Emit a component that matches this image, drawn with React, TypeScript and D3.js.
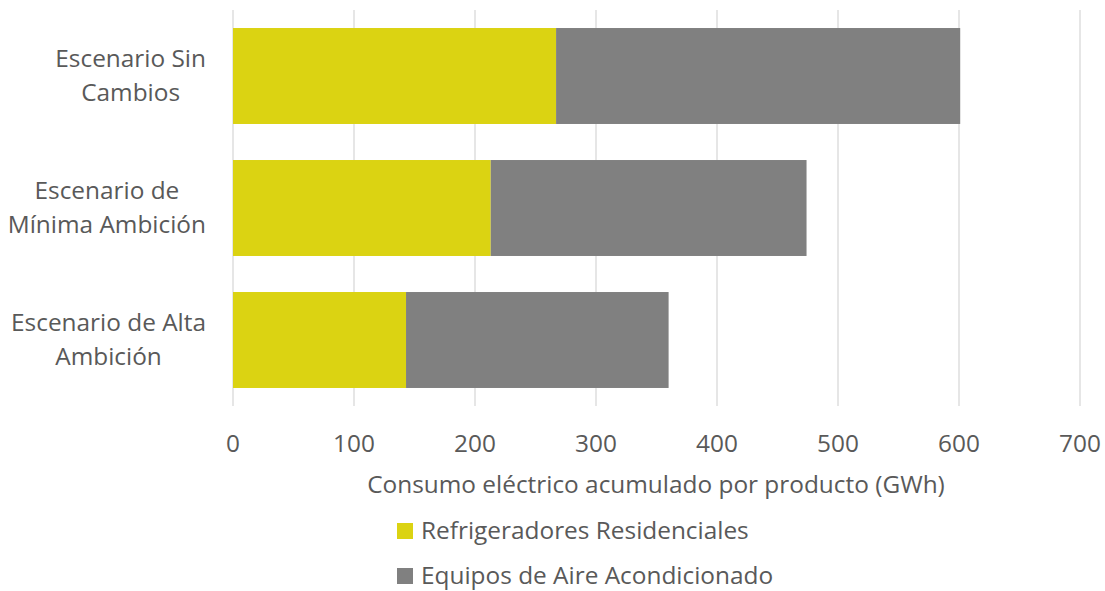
import React, { useEffect, useRef } from "react";
import * as d3 from "d3";

const categories = [
  ["Escenario Sin", "Cambios"],
  ["Escenario de", "Mínima Ambición"],
  ["Escenario de Alta", "Ambición"],
];
const seriesNames = ["Refrigeradores Residenciales", "Equipos de Aire Acondicionado"];
const refrigeradores = [267, 213, 143];
const aireAcondicionado = [334, 261, 217];
const xTicks = [0, 100, 200, 300, 400, 500, 600, 700];
const axisTitle = "Consumo eléctrico acumulado por producto (GWh)";
const colors = ["#DBD312", "#808080"];

const W = 1105, H = 591;
const FONT = "'Open Sans', sans-serif";
const FS = 24.4;
const TXT = "#595959";

export default function App() {
  const ref = useRef<SVGSVGElement>(null);
  useEffect(() => {
    const svg = d3.select(ref.current);
    svg.selectAll("*").remove();
    const x = d3.scaleLinear().domain([0, 700]).range([233, 1080]);
    const y = d3.scaleBand<number>().domain([0, 1, 2]).range([10, 406]).paddingInner(0.273).paddingOuter(0.1365);

    svg.append("g").selectAll("line").data(xTicks).join("line")
      .attr("x1", d => x(d)).attr("x2", d => x(d))
      .attr("y1", 10).attr("y2", 406)
      .attr("stroke", "#d9d9d9").attr("stroke-width", 1.3);

    const stacks = categories.map((_, i) => [refrigeradores[i], aireAcondicionado[i]]);
    stacks.forEach((vals, i) => {
      let acc = 0;
      vals.forEach((v, s) => {
        svg.append("rect")
          .attr("x", x(acc)).attr("width", x(acc + v) - x(acc))
          .attr("y", y(i)!).attr("height", y.bandwidth())
          .attr("fill", colors[s]);
        acc += v;
      });
    });

    svg.append("g").selectAll("text").data(xTicks).join("text")
      .attr("x", d => x(d)).attr("y", 452)
      .attr("text-anchor", "middle")
      .attr("font-family", FONT).attr("font-size", FS).attr("fill", TXT)
      .text(d => String(d));

    categories.forEach((lines, i) => {
      const cy = y(i)! + y.bandwidth() / 2;
      const g = svg.append("g");
      const texts = lines.map((l, k) =>
        g.append("text")
          .attr("y", cy + (k - (lines.length - 1) / 2) * 34 + 8)
          .attr("font-family", FONT).attr("font-size", FS).attr("fill", TXT)
          .attr("text-anchor", "middle")
          .text(l)
      );
      const maxW = d3.max(texts, t => (t.node() as SVGTextElement).getComputedTextLength()) || 0;
      texts.forEach(t => t.attr("x", 206 - maxW / 2));
    });

    svg.append("text")
      .attr("x", 656).attr("y", 493)
      .attr("text-anchor", "middle")
      .attr("font-family", FONT).attr("font-size", FS).attr("fill", TXT)
      .text(axisTitle);

    seriesNames.forEach((n, s) => {
      const base = 539 + s * 45;
      svg.append("rect").attr("x", 397).attr("y", base - 16).attr("width", 16).attr("height", 16).attr("fill", colors[s]);
      svg.append("text").attr("x", 421).attr("y", base)
        .attr("font-family", FONT).attr("font-size", FS).attr("fill", TXT)
        .text(n);
    });
  }, []);
  return (
    <svg ref={ref} width={W} height={H} style={{ display: "block", position: "absolute", left: 0, top: 0, background: "#fff" }} />
  );
}
